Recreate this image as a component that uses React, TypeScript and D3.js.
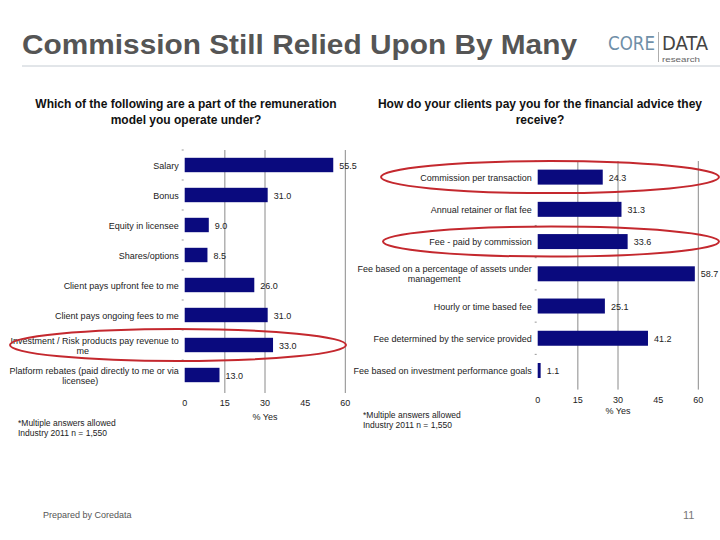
import React from "react";
import * as d3 from "d3";

const leftCategories = [
  ["Salary"],
  ["Bonus"],
  ["Equity in licensee"],
  ["Shares/options"],
  ["Client pays upfront fee to me"],
  ["Client pays ongoing fees to me"],
  ["Investment / Risk products pay revenue to", "me"],
  ["Platform rebates (paid directly to me or via", "licensee)"],
];
const leftValues = [55.5, 31.0, 9.0, 8.5, 26.0, 31.0, 33.0, 13.0];

const rightCategories = [
  ["Commission per transaction"],
  ["Annual retainer or flat fee"],
  ["Fee - paid by commission"],
  ["Fee based on a percentage of assets under", "management"],
  ["Hourly or time based fee"],
  ["Fee determined by the service provided"],
  ["Fee based on investment performance goals"],
];
const rightValues = [24.3, 31.3, 33.6, 58.7, 25.1, 41.2, 1.1];

const tickValues = [0, 15, 30, 45, 60];
const gridValues = [15, 30, 60];

const FONT = "'Liberation Sans', Arial, sans-serif";
const BAR = "#0a0a7e";

type PanelProps = {
  cats: string[][];
  vals: number[];
  x0: number;
  x1: number;
  y0: number;
  y1: number;
  pad: number;
  labelY: number;
  highlight: number[];
  ellipses: { cx: number; rx: number; ry: number }[];
};

function labelCenterShift(first: string, second: string) {
  const w = (s: string) => s.length * 4.6;
  return (w(first) - w(second)) / 2;
}

function Panel({ cats, vals, x0, x1, y0, y1, pad, labelY, highlight, ellipses }: PanelProps) {
  const x = d3.scaleLinear().domain([0, 60]).range([x0, x1]);
  const idx = cats.map((_, i) => String(i));
  const y = d3.scaleBand().domain(idx).range([y0, y1]).paddingInner(pad).paddingOuter(pad / 2);
  const step = y.step();
  return (
    <g>
      {gridValues.map((g) => (
        <line key={g} x1={x(g)} x2={x(g)} y1={y0} y2={y1 + 3} stroke="#8a8a8a" strokeWidth={1} />
      ))}
      {cats.map((_, i) => (
        <line key={"t" + i} x1={x0 - 3} x2={x0 - 1} y1={y0 + i * step} y2={y0 + i * step} stroke="#999" strokeWidth={1} />
      ))}
      {vals.map((v, i) => (
        <rect key={"b" + i} x={x(0)} y={y(String(i))!} width={x(v) - x(0)} height={y.bandwidth()} fill={BAR} />
      ))}
      {vals.map((v, i) => (
        <text key={"v" + i} x={x(v) + 6} y={y(String(i))! + y.bandwidth() / 2 + 3.5} fontSize={9} fill="#222" fontFamily={FONT}>
          {v.toFixed(1)}
        </text>
      ))}
      {cats.map((c, i) => {
        const cy = y(String(i))! + y.bandwidth() / 2;
        const n = c.length;
        return (
          <text key={"c" + i} x={x0 - 6} y={cy + 3.5 - ((n - 1) * 10) / 2} fontSize={9} fill="#222" fontFamily={FONT} textAnchor="end">
            {c.map((line, j) => (
              <tspan key={j} x={n > 1 && j > 0 ? x0 - 6 - labelCenterShift(c[0], line) : x0 - 6} dy={j === 0 ? 0 : 10}>
                {line}
              </tspan>
            ))}
          </text>
        );
      })}
      {tickValues.map((t) => (
        <text key={"x" + t} x={x(t)} y={y1 + 16} fontSize={9} fill="#222" fontFamily={FONT} textAnchor="middle">
          {t}
        </text>
      ))}
      <text x={(x0 + x1) / 2} y={labelY} fontSize={9} fill="#222" fontFamily={FONT} textAnchor="middle">
        % Yes
      </text>
      {highlight.map((h, k) => {
        const e = ellipses[k];
        const cy = y(String(h))! + y.bandwidth() / 2;
        return <ellipse key={"e" + k} cx={e.cx} cy={cy} rx={e.rx} ry={e.ry} fill="none" stroke="#c4282e" strokeWidth={2} />;
      })}
    </g>
  );
}

const LOGO = "'DejaVu Sans Condensed', 'Liberation Sans', sans-serif";

export default function App() {
  return (
    <svg width={720} height={540} style={{ position: "absolute", left: 0, top: 0, background: "#fff" }}>
      <rect x={0} y={0} width={720} height={540} fill="#fff" />
      <text x={22} y={54} fontSize={28} fontWeight="bold" fill="#555" fontFamily={FONT} textLength={555} lengthAdjust="spacingAndGlyphs">
        Commission Still Relied Upon By Many
      </text>
      <line x1={22} x2={720} y1={66} y2={66} stroke="#c5ccd3" strokeWidth={1} />
      <text x={608} y={50} fontSize={20} fill="#6f8fa8" fontFamily={LOGO} fontWeight={300} textLength={47} lengthAdjust="spacingAndGlyphs">
        CORE
      </text>
      <line x1={658.5} x2={658.5} y1={32} y2={62} stroke="#999" strokeWidth={0.8} />
      <text x={662} y={50} fontSize={20} fill="#444" fontFamily={LOGO} fontWeight={300} textLength={46} lengthAdjust="spacingAndGlyphs">
        DATA
      </text>
      <text x={662} y={62} fontSize={7.5} fill="#666" fontFamily={FONT} textLength={38} lengthAdjust="spacingAndGlyphs">
        research
      </text>

      <text x={186} y={108} fontSize={12} fontWeight="bold" fill="#111" fontFamily={FONT} textAnchor="middle">
        <tspan x={186}>Which of the following are a part of the remuneration</tspan>
        <tspan x={186} dy={16}>model you operate under?</tspan>
      </text>
      <text x={540} y={108} fontSize={12} fontWeight="bold" fill="#111" fontFamily={FONT} textAnchor="middle">
        <tspan x={540}>How do your clients pay you for the financial advice they</tspan>
        <tspan x={540} dy={16}>receive?</tspan>
      </text>

      <Panel
        cats={leftCategories}
        vals={leftValues}
        x0={184.7}
        x1={345.3}
        y0={150}
        y1={390}
        pad={0.52}
        labelY={420}
        highlight={[6]}
        ellipses={[{ cx: 178, rx: 168, ry: 16 }]}
      />
      <Panel
        cats={rightCategories}
        vals={rightValues}
        x0={537.7}
        x1={698.3}
        y0={161}
        y1={386.6}
        pad={0.535}
        labelY={414}
        highlight={[0, 2]}
        ellipses={[
          { cx: 550, rx: 169, ry: 16 },
          { cx: 551, rx: 168, ry: 15 },
        ]}
      />

      <text x={18} y={426} fontSize={8.5} fill="#222" fontFamily={FONT}>
        <tspan x={18}>*Multiple answers allowed</tspan>
        <tspan x={18} dy={10}>Industry 2011 n = 1,550</tspan>
      </text>
      <text x={363} y={418} fontSize={8.5} fill="#222" fontFamily={FONT}>
        <tspan x={363}>*Multiple answers allowed</tspan>
        <tspan x={363} dy={10}>Industry 2011 n = 1,550</tspan>
      </text>

      <text x={43} y={518} fontSize={9} fill="#555" fontFamily={FONT}>
        Prepared by Coredata
      </text>
      <text x={683} y={519} fontSize={11} fill="#777" fontFamily={FONT}>
        11
      </text>
    </svg>
  );
}
